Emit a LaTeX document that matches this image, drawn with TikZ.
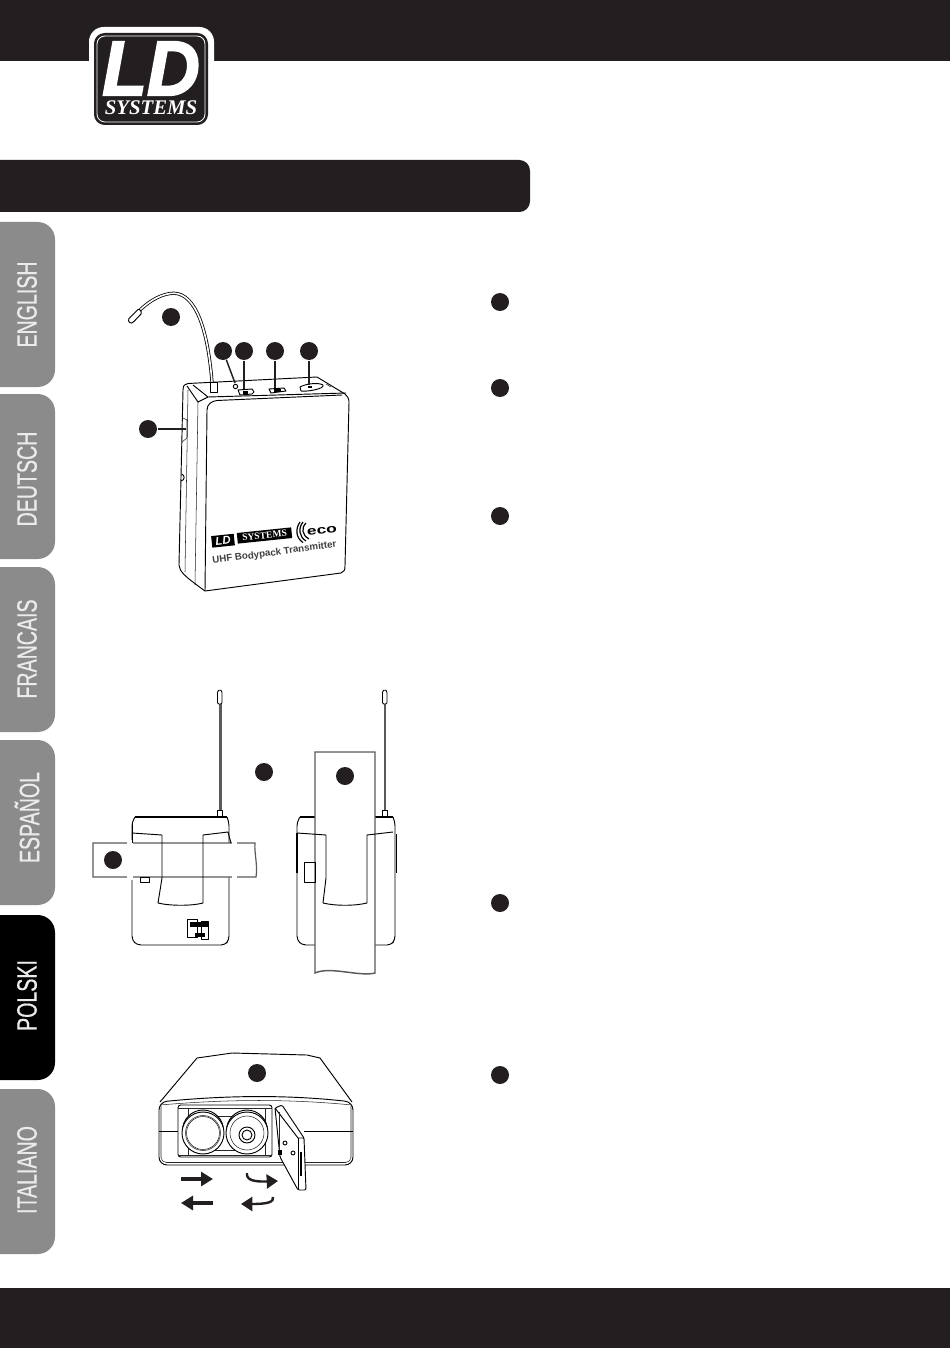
\documentclass[tikz,border=0pt]{standalone}
\usepackage{graphicx}
\usepackage{fontspec}
\setmainfont{Liberation Sans}
\newfontfamily\logoserif{Liberation Serif}
\newfontfamily\logoheavy[BoldItalicFeatures={FakeBold=2.5}]{Liberation Sans}
\newfontfamily\tabfont[FakeBold=0.7]{Liberation Sans}
\usetikzlibrary{arrows.meta}

\definecolor{barblack}{RGB}{35,31,32}
\definecolor{tabgrey}{RGB}{140,139,140}
\definecolor{beltgrey}{RGB}{90,90,90}

\newcommand{\tablabel}[1]{\scalebox{0.70}[1]{\tabfont\fontsize{21}{21}\selectfont #1}}

\tikzset{every picture/.style={line width=0.75pt}}
\tikzset{
  callout/.style={circle,fill=barblack,draw=none,minimum size=13.5pt,inner sep=0pt},
  calloutline/.style={barblack,line width=1.1pt},
  tabshape/.style={rounded corners=13pt},
  tabtext/.style={rotate=90,text=white!92!black,inner sep=0pt},
  outline/.style={black,line width=0.7pt,line join=round},
  thinline/.style={black!85,line width=0.4pt,line join=round},
  fatarrow/.style={barblack,line width=3.4pt,-{Triangle[length=9pt,width=10.5pt]}},
  curvearrow/.style={barblack,line width=1.8pt,-{Triangle[length=8.5pt,width=10.5pt]}}
}

\begin{document}
\begin{tikzpicture}[x=0.75pt,y=0.75pt,yscale=-1,xscale=1]
\useasboundingbox (0,0) rectangle (950,1348);

% Bars
\fill [barblack] (0,0) rectangle (950,61);
\fill [barblack] (0,1288) rectangle (950,1348);
\fill [barblack,rounded corners=8pt] (-20,160) rectangle (530,212);

% Logo
\fill [white,rounded corners=11pt] (89,27) rectangle (214,127);
\fill [barblack,rounded corners=8pt] (94,33) rectangle (208,125);
\draw [white,line width=0.6pt,rounded corners=6pt] (97,36) rectangle (205,122);
\node (logold) at (151,68.5) [white,inner sep=0pt] {\scalebox{0.98}[1.04]{\logoheavy\fontsize{56}{56}\selectfont\bfseries\itshape LD}};
\node (logosystems) at (151,108) [white,inner sep=0pt] {\logoserif\fontsize{15.6}{15}\selectfont\bfseries\itshape SYSTEMS};

% Language tabs
\fill [tabgrey,tabshape] (-30,222) rectangle (55,387);
\fill [tabgrey,tabshape] (-30,394) rectangle (55,559);
\fill [tabgrey,tabshape] (-30,567) rectangle (55,732);
\fill [tabgrey,tabshape] (-30,740) rectangle (55,905);
\fill [black,tabshape] (-30,915) rectangle (55,1080);
\fill [tabgrey,tabshape] (-30,1089) rectangle (55,1254);
\node (tabenglish) at (27,304.5) [tabtext] {\tablabel{ENGLISH}};
\node (tabdeutsch) at (27,479) [tabtext] {\tablabel{DEUTSCH}};
\node (tabfrancais) at (27,649) [tabtext] {\tablabel{FRANCAIS}};
\node (tabespanol) at (27,817.5) [tabtext] {\tablabel{ESPAÑOL}};
\node (tabpolski) at (27,995.5) [tabtext] {\tablabel{POLSKI}};
\node (tabitaliano) at (27,1170) [tabtext] {\tablabel{ITALIANO}};

% Text callouts on the right
\node (textone) at (500,302) [callout] {};
\node (texttwo) at (500,388) [callout] {};
\node (textthree) at (500,516) [callout] {};
\node (textfour) at (500,903) [callout] {};
\node (textfive) at (500,1075) [callout] {};

% Transmitter: antenna
\draw [black,line width=2.4pt] (212,382) .. controls (207,320) and (192,290) .. (170,293.5) .. controls (157,295.5) and (146,304) .. (139,311);
\draw [white,line width=1.2pt] (212,382) .. controls (207,320) and (192,290) .. (170,293.5) .. controls (157,295.5) and (146,304) .. (139,311);
\draw [outline,fill=white,rounded corners=1pt] (139,308.5) -- (128,319.5) -- (130,323.5) -- (133,322.5) -- (142,313) -- cycle;

% Transmitter: body
\draw [outline,fill=white] (188,383.5) .. controls (185,384) and (183,385) .. (183,390) -- (179,565) .. controls (180,572) and (183,575) .. (205,591) -- (341,573) .. controls (344,572) and (345,570) .. (345,566) -- (349,402) .. controls (349,398) and (347,396) .. (345,394) -- (317,377) -- (188,383.5);
\draw [outline] (193,385) -- (208,397) -- (346,393);
\draw [outline] (187,386) -- (198,402) -- (208,397);
\draw [thinline] (188,390) -- (185,572);
\draw [thinline] (198,402) -- (195,585);
\draw [outline] (207,410) .. controls (207,404) and (212,401) .. (217,400.5) -- (342,395);
\draw [outline] (207,410) -- (205,591);
\draw [thinline] (183,418) -- (187,420) -- (187,438) -- (182,442);
\draw [outline] (182,474) .. controls (185,476) and (185,480) .. (181,481);

% Transmitter: controls on top
\draw [outline,fill=white] (210,382) rectangle (217,392);
\draw [outline] (235.5,386.5) circle (2.2);
\draw [outline,fill=white] (238,390) -- (252,389) -- (254,392) -- (252,394) -- (240,395) -- cycle;
\fill [black] (243,390.5) rectangle (248,393.5);
\draw [outline,fill=white] (269,389) -- (284,388) -- (286,391) -- (271,393) -- cycle;
\fill [black] (274,389) rectangle (281,392);
\draw [outline,fill=white] (300,387) .. controls (305,384) and (318,382) .. (323,385) .. controls (325,389) and (306,392) .. (301,391) -- cycle;
\fill [black] (308,386) rectangle (312,388);
\draw [thinline] (326,384) -- (331,387);

% Transmitter: printing on the front
\node (frontld) at (223,540.7) [rotate=5.9,fill=black,text=white,inner sep=0pt,minimum width=17pt,minimum height=8.7pt] {\fontsize{8.5}{8}\selectfont\bfseries\itshape LD};
\node (frontsystems) at (264.5,535.5) [rotate=5.9,fill=black,text=white,inner sep=0pt,minimum width=41pt,minimum height=8pt] {\logoserif\fontsize{7.2}{7}\selectfont\bfseries SYSTEMS};
\node (frontname) at (274.5,553) [rotate=7.7,text=black!75,inner sep=0pt] {\fontsize{7.3}{7}\selectfont\bfseries UHF Bodypack Transmitter};
\node (fronteco) at (322,530.5) [rotate=6,inner sep=0pt] {\scalebox{1.45}[1]{\fontsize{9}{9}\selectfont\bfseries eco}};
\draw [black,line width=0.9pt] (306,523) .. controls (301,528) and (302,535) .. (309,539);
\draw [black,line width=0.9pt] (303,522) .. controls (298,528) and (299,537) .. (306,541);
\draw [black,line width=0.9pt] (300,522) .. controls (295,529) and (296,538) .. (303,542.5);

% Transmitter: callouts
\coordinate (mutepoint) at (235,383);
\coordinate (powerpoint) at (244,389);
\coordinate (gainpoint) at (275,388);
\coordinate (jackpoint) at (309,385);
\coordinate (sidepoint) at (186,429);
\node (capsule) at (171,317) [callout] {};
\node (mute) at (223,351) [callout] {};
\node (power) at (244,351) [callout] {};
\node (gain) at (275,351) [callout] {};
\node (jack) at (309,351) [callout] {};
\node (side) at (148,429) [callout] {};
\draw [calloutline] (mute) -- (mutepoint);
\draw [calloutline] (power) -- (powerpoint);
\draw [calloutline] (gain) -- (gainpoint);
\draw [calloutline] (jack) -- (jackpoint);
\draw [calloutline] (side) -- (sidepoint);

% Belt clip, left view
\draw [beltgrey,line width=2.2pt] (220.5,810) -- (220.5,704);
\draw [outline,fill=white,rounded corners=1pt] (217.5,704) -- (217.5,691) -- (219.7,689.5) -- (222,691) -- (222,704) -- cycle;
\draw [outline,fill=white] (217.5,810) rectangle (222.5,817);
\draw [outline,rounded corners=3pt] (135,817) -- (132,822) -- (132,940) -- (137,945) -- (225,945) -- (229,940) -- (229,822) -- (227,817);
\draw [black,line width=1.2pt] (135,817) -- (227,817);
\draw [beltgrey,line width=0.9pt,fill=white] (93,843) -- (255,843) .. controls (254,852) and (258,866) .. (256,877) -- (93,877) -- cycle;
\fill [white] (127,840) rectangle (133,880);
\fill [white] (232,840) rectangle (237,880);
\draw [outline] (140,877) rectangle (149,882);
\draw [outline] (132,833) -- (162,835) -- (162,878) -- (158,903) .. controls (170,906) and (192,906) .. (203,903) -- (203,835) -- (228,832) -- (231,843);
\draw [outline] (132,822) -- (132,843);
\draw [outline,fill=white] (187,919) rectangle (197,937);
\draw [outline,fill=white] (201,921) rectangle (208,939);
\fill [black] (190,922) rectangle (208,927);
\fill [black] (195,933) rectangle (205,937);
\node (beltleft) at (113,860) [callout] {};
\node (clipmark) at (264,772) [callout] {};

% Belt clip, right view
\draw [beltgrey,line width=2.2pt] (385,810) -- (385,704);
\draw [outline,fill=white,rounded corners=1pt] (382.5,704) -- (382.5,691) -- (384.7,689.5) -- (387,691) -- (387,704) -- cycle;
\draw [outline,fill=white] (382,810) rectangle (387,817);
\draw [outline,rounded corners=3pt] (300,817) -- (297,822) -- (297,940) -- (302,945) -- (391,945) -- (395,940) -- (395,822) -- (393,817);
\draw [black,line width=1.2pt] (300,817) -- (393,817);
\draw [black,line width=1.1pt] (297,833) -- (297,873);
\draw [outline] (396,834) -- (396,873);
\draw [beltgrey,line width=1.1pt,fill=white] (315,752) -- (375,752) -- (375,973) .. controls (360,977) and (330,966) .. (315,973) -- cycle;
\draw [outline] (304,862) rectangle (315,882);
\draw [outline] (297,833) -- (326,835) -- (326,878) -- (323,903) .. controls (335,906) and (355,906) .. (367,903) -- (367,835) -- (393,832);
\node (beltright) at (345,776) [callout] {};

% Battery compartment
\draw [outline,fill=white] (160,1102) -- (197,1058) -- (232,1053) -- (307,1055) -- (320,1058) -- (352,1102);
\draw [outline,fill=white,rounded corners=6pt] (159,1102) .. controls (230,1095) and (290,1095) .. (353,1102) -- (353,1165) -- (159,1165) -- cycle;
\draw [thinline] (160,1105) .. controls (230,1099) and (290,1099) .. (352,1105);
\draw [thinline,rounded corners=4pt] (161,1106) -- (161,1162.5) -- (351,1162.5) -- (351,1106);
\draw [outline] (159,1131) -- (178,1131);
\draw [outline] (304,1131) -- (353,1131);
\draw [outline,fill=white,rounded corners=2pt] (178,1105) -- (272,1105) -- (272,1157) -- (178,1157) -- cycle;
\draw [thinline] (178,1108) -- (272,1108) (178,1155) -- (272,1155);
\draw [thinline] (188,1108) -- (188,1155) (265,1108) -- (265,1155);
\draw [thinline] (210,1116) -- (240,1116) (210,1150) -- (240,1150);
\draw [outline,fill=white] (203,1130.5) circle (20.5);
\draw [outline,fill=white] (203,1133) circle (21);
\draw [thinline] (203,1133) circle (17.5);
\draw [thinline] (203,1133) circle (16.5);
\draw [outline,fill=white] (247,1130.5) circle (20.5);
\draw [outline,fill=white] (247,1133) circle (21);
\draw [thinline] (247,1133) circle (17);
\draw [outline] (247,1135) circle (8);
\draw [outline] (247,1135) circle (5);

% Battery door
\draw [outline,fill=white,rounded corners=1pt] (275,1108) -- (282,1105) -- (304,1138) -- (306,1190) -- (298,1190) -- (280,1157) -- cycle;
\draw [outline] (275,1108) -- (298,1138) -- (304,1138);
\draw [outline] (298,1138) -- (298,1190);
\fill [black] (300,1152) rectangle (302,1176);
\draw [outline] (285,1143) circle (2);
\draw [outline] (293,1153) circle (2);
\fill [black] (278,1150) rectangle (282,1155);
\draw [thinline] (279,1112) -- (279,1150);

% Direction arrows
\coordinate (insertstart) at (181,1179);
\coordinate (insertend) at (213,1179);
\coordinate (removestart) at (213,1203);
\coordinate (removeend) at (181,1203);
\coordinate (openstart) at (247,1173);
\coordinate (openend) at (278,1181);
\coordinate (closestart) at (273,1197);
\coordinate (closeend) at (241,1204);
\draw [fatarrow] (insertstart) -- (insertend);
\draw [fatarrow] (removestart) -- (removeend);
\draw [curvearrow] (openstart) .. controls (246,1180) and (254,1182) .. (openend);
\draw [curvearrow] (closestart) .. controls (274,1202) and (268,1204) .. (closeend);
\node (batterymark) at (257,1073) [callout] {};

\end{tikzpicture}
\end{document}
